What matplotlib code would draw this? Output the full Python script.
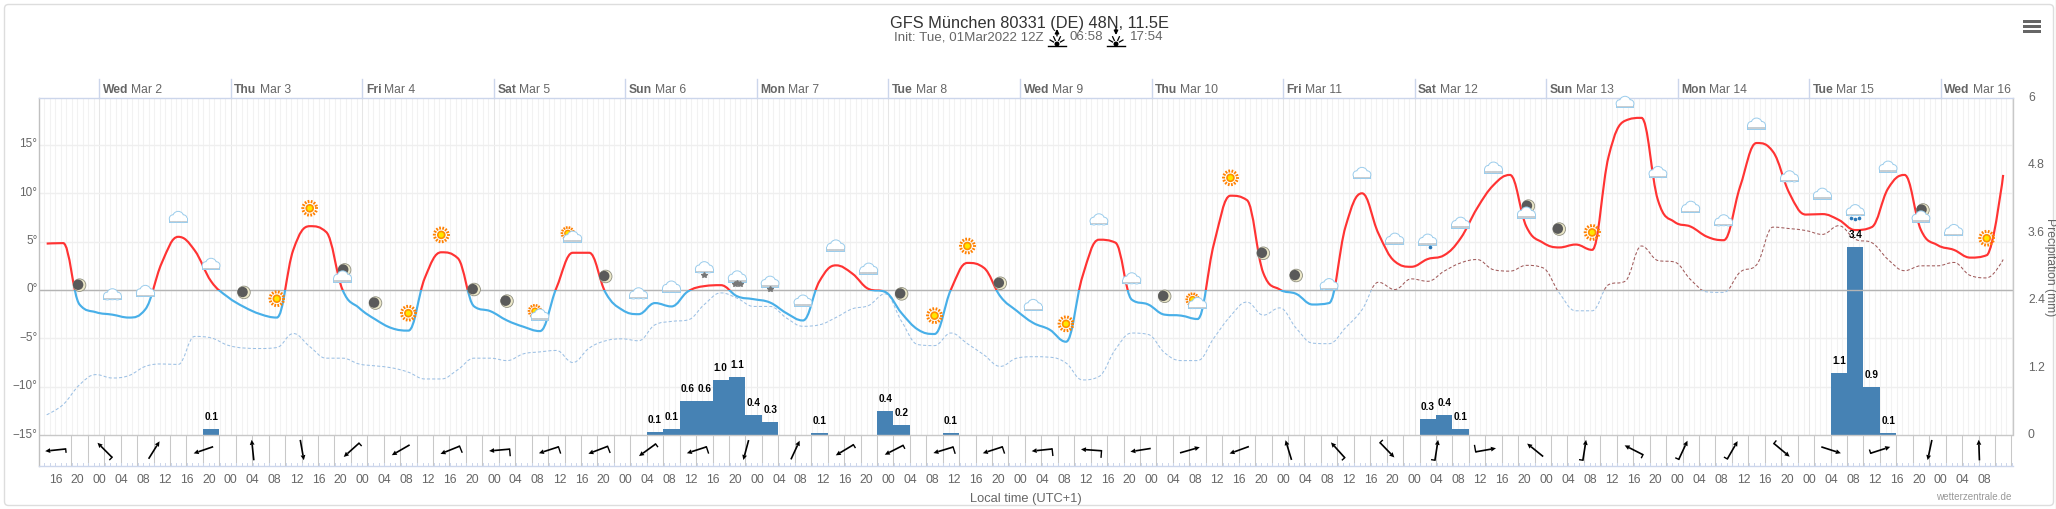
import numpy as np
import matplotlib
matplotlib.use('Agg')
import matplotlib.pyplot as plt
from matplotlib.path import Path
from matplotlib.patches import PathPatch, Rectangle, Circle, Polygon, FancyBboxPatch

W, H = 2056, 509
plt.rcParams['font.family'] = ['Liberation Sans', 'DejaVu Sans']

# 3-hourly GFS run
temp = [4.8, 4.85, -1.5, -2.3, -2.55, -2.85, -2.0, 2.8, 5.5, 4.1,
        0.9, -0.7, -1.75, -2.5, -2.85, 4.15, 6.6, 6.0, 0.0, -1.85,
        -3.05, -3.95, -4.2, 1.25, 3.9, 3.3, -1.7, -2.2, -3.15, -3.8,
        -4.25, 0.2, 3.85, 3.85, -0.3, -2.05, -2.5, -1.35, -1.7, -0.15,
        0.4, 0.5, -0.65, -0.95, -1.3, -2.4, -3.15, 0.9, 2.55, 1.7,
        0.1, -0.2, -2.4, -4.1, -4.55, 0.05, 2.8, 2.3, -0.65, -2.15,
        -3.4, -4.1, -5.35, 1.4, 5.2, 4.9, -1.0, -1.5, -2.55, -2.65,
        -3.0, 4.8, 9.75, 9.3, 1.75, 0.05, -0.4, -1.5, -1.35, 6.55,
        10.0, 5.85, 2.95, 2.4, 3.2, 3.6, 5.35, 8.45, 10.85, 11.9,
        6.55, 4.9, 4.4, 4.7, 4.15, 13.8, 17.5, 17.8, 9.3, 7.05,
        6.55, 5.5, 5.15, 10.7, 15.2, 14.3, 10.0, 7.8, 7.85, 7.25,
        6.2, 6.5, 10.5, 11.9, 6.2, 4.65, 4.15, 3.35, 3.6, 11.9]
dew = [-12.9, -11.85, -9.8, -8.75, -9.1, -8.85, -7.9, -7.65, -7.7, -4.8,
       -4.95, -5.7, -6.0, -6.05, -5.95, -4.5, -5.85, -7.05, -7.05, -7.65,
       -7.85, -8.05, -8.5, -9.2, -9.2, -8.25, -7.05, -7.05, -7.3, -6.6,
       -6.4, -6.25, -7.5, -6.0, -5.25, -5.05, -5.25, -3.6, -3.25, -3.1,
       -1.5, -0.3, -0.85, -1.7, -1.7, -2.9, -3.75, -3.6, -2.85, -1.95,
       -1.6, -0.4, -3.25, -5.65, -5.75, -4.45, -5.55, -6.7, -7.9, -7.05,
       -6.9, -6.95, -7.55, -9.3, -8.95, -6.15, -4.45, -4.6, -6.5, -7.3,
       -7.3, -4.95, -2.7, -1.25, -2.6, -1.85, -3.95, -5.5, -5.55, -3.9,
       -2.05, 0.8, 0.05, 1.15, 0.9, 1.95, 2.8, 3.15, 2.1, 1.95,
       2.55, 2.3, -0.3, -2.15, -2.15, 0.55, 0.9, 4.55, 3.05, 2.9,
       1.05, -0.2, -0.25, 1.85, 2.6, 6.5, 6.35, 6.15, 5.75, 6.65,
       5.25, 4.9, 3.15, 2.0, 2.5, 2.5, 2.85, 1.5, 1.25, 3.15]

precip_idx = [10, 37, 38, 39, 40, 41, 42, 43, 44, 47, 51, 52, 55, 84, 85, 86, 109, 110, 111, 112]
precip_mm = [0.11, 0.06, 0.11, 0.61, 0.61, 0.98, 1.04, 0.36, 0.24, 0.04, 0.43, 0.18, 0.04,
             0.29, 0.36, 0.11, 1.11, 3.34, 0.86, 0.04]
precip_lab = ['0.1', '0.1', '0.1', '0.6', '0.6', '1.0', '1.1', '0.4', '0.3', '0.1', '0.4', '0.2', '0.1',
              '0.3', '0.4', '0.1', '1.1', '3.4', '0.9', '0.1']

# icon every second step, starting at step 2
icon_kind = ['m', 'c', 'c', 'c', 'c', 'm', 's', 's', 'mc', 'm',
             's', 's', 'm', 'm', 'sc', 'sc', 'm', 'c', 'c', 'sn',
             'sn3', 'sn', 'c', 'c', 'c', 'm', 's', 's', 'm', 'c',
             's', 'c', 'c', 'm', 'sc', 's', 'm', 'm', 'c', 'c',
             'c', 'r1', 'c', 'c', 'mc', 'm', 's', 'c', 'c', 'c',
             'c', 'c', 'c', 'c', 'r3', 'c', 'mc', 'c', 's']
icon_y = [0.5, -0.5, -0.15, 7.5, 2.65, -0.25, -0.9, 8.45, 1.35, -1.35,
          -2.4, 5.7, 0.05, -1.15, -2.6, 5.45, 1.4, -0.4, 0.3, 2.3,
          1.35, 0.8, -1.15, 4.55, 2.15, -0.4, -2.65, 4.55, 0.7, -1.6,
          -3.5, 7.25, 1.15, -0.65, -1.4, 11.6, 3.8, 1.5, 0.55, 12.05,
          5.25, 5.15, 6.9, 12.6, 7.95, 6.3, 5.95, 19.4, 12.15, 8.55,
          7.15, 17.15, 11.7, 9.9, 8.2, 12.7, 7.55, 6.15, 5.35]

# arrow heading in degrees (0 = pointing right, counter clockwise), barb code at the tail
wind_heading = [186, 135, 58, 199, 96, 280, 222, 210, 202, 185,
                198, 201, 216, 198, 255, 65, 211, 207, 197, 198,
                186, 176, 189, 16, 200, 107, 132, 314, 81, 10,
                141, 81, 153, 65, 60, 320, 342, 18, 258, 92]
wind_barb = [1, 1, 0, 0, 0, 0, 1, 0, 2, 2,
             2, 2, 1, 2, 0, 0, 1, 1, 2, 2,
             2, 2, 0, 0, 0, 0, 1, 1, 1, 2,
             0, 1, 1, 1, 1, 1, 0, 1, 0, 0]

days = [('Wed', 'Mar 2'), ('Thu', 'Mar 3'), ('Fri', 'Mar 4'), ('Sat', 'Mar 5'), ('Sun', 'Mar 6'),
        ('Mon', 'Mar 7'), ('Tue', 'Mar 8'), ('Wed', 'Mar 9'), ('Thu', 'Mar 10'), ('Fri', 'Mar 11'),
        ('Sat', 'Mar 12'), ('Sun', 'Mar 13'), ('Mon', 'Mar 14'), ('Tue', 'Mar 15'), ('Wed', 'Mar 16')]
tick_hours = list(range(-8, 345, 4))
temp_ticks = [-15, -10, -5, 0, 5, 10, 15]
precip_ticks = [0, 1.2, 2.4, 3.6, 4.8, 6]

# hours since Mar 2 00:00 local
hours = np.arange(len(temp)) * 3 - 9.6

GRID = '#f2f2f2'
AXIS_BLUE = '#ccd6eb'
LABEL = '#666666'


def spline_path(xs, ys):
    # same bezier smoothing as a web chart spline
    verts = [(xs[0], ys[0])]
    codes = [Path.MOVETO]
    n = len(xs)
    conts = []
    for i in range(n):
        if i == 0 or i == n - 1:
            conts.append(((xs[i], ys[i]), (xs[i], ys[i])))
            continue
        lx = (1.5 * xs[i] + xs[i - 1]) / 2.5
        ly = (1.5 * ys[i] + ys[i - 1]) / 2.5
        rx = (1.5 * xs[i] + xs[i + 1]) / 2.5
        ry = (1.5 * ys[i] + ys[i + 1]) / 2.5
        corr = (ry - ly) * (rx - xs[i]) / (rx - lx) + ys[i] - ry
        ly += corr
        ry += corr
        if ly > ys[i] and ly > ys[i - 1]:
            ly = max(ys[i], ys[i - 1])
            ry = 2 * ys[i] - ly
        elif ly < ys[i] and ly < ys[i - 1]:
            ly = min(ys[i], ys[i - 1])
            ry = 2 * ys[i] - ly
        if ry > ys[i] and ry > ys[i + 1]:
            ry = max(ys[i], ys[i + 1])
            ly = 2 * ys[i] - ry
        elif ry < ys[i] and ry < ys[i + 1]:
            ry = min(ys[i], ys[i + 1])
            ly = 2 * ys[i] - ry
        conts.append(((lx, ly), (rx, ry)))
    for i in range(n - 1):
        verts += [conts[i][1], conts[i + 1][0], (xs[i + 1], ys[i + 1])]
        codes += [Path.CURVE4] * 3
    return Path(verts, codes)


def zoned_line(ax, xs, ys, col_up, col_down, **kw):
    path = spline_path(xs, ys)
    x0, x1 = ax.get_xlim()
    y0, y1 = ax.get_ylim()
    for col, lo, hi in ((col_down, y0, 0), (col_up, 0, y1)):
        p = PathPatch(path, facecolor='none', edgecolor=col, zorder=4, **kw)
        ax.add_patch(p)
        p.set_clip_path(Rectangle((x0, lo), x1 - x0, hi - lo, transform=ax.transData))


fig = plt.figure(figsize=(W / 100, H / 100), dpi=100, facecolor='white')
left, right, top, bottom = 39, 2012.5, 98, 466

ax2 = fig.add_axes([left / W, 1 - bottom / H, (right - left) / W, (bottom - top) / H])
ax2.set_xlim(-11, 349.1)
ax2.set_ylim(-(bottom - 435) / 56.17, 6)
ax = ax2.twinx()
ax.set_ylim((290 - bottom) / 9.67, (290 - top) / 9.67)
ax.set_zorder(2)
ax2.set_zorder(1)
ax.patch.set_visible(False)
for a in (ax, ax2):
    for s in a.spines.values():
        s.set_visible(False)
    a.set_xticks([])
    a.set_yticks([])

# grid, kept on the lower axes so the bars hide it
grid_top = ax2.get_ylim()[1]
for h in range(-10, 350):
    col = '#e6e6e6' if h % 24 == 0 else GRID
    ax2.plot([h, h], [0, grid_top], color=col, lw=0.75, zorder=1)
for t in temp_ticks[1:]:
    ax2.plot([-11, 349.1], [t, t], transform=ax.transData, color='#efefef', lw=1.0, zorder=1.5)

bar_x = [hours[i] for i in precip_idx]
ax2.bar(bar_x, precip_mm, width=3, color='#4682b4', zorder=2)
ax2.plot([-11, 349.1], [-15, -15], transform=ax.transData, color='#c8c8c8', lw=1.0, zorder=3)
ax2.plot([-11, 349.1], [0, 0], transform=ax.transData, color='#b4b4b4', lw=1.0, zorder=3)

# wind row separators
for h in hours[1:]:
    ax.plot([h + 1.5, h + 1.5], [ax.get_ylim()[0], -15], color='#c8c8c8', lw=0.75, zorder=1)
ax.plot([-11, -11], ax.get_ylim(), color='#c0c0c0', lw=1.0, zorder=1, clip_on=False)
ax.plot([349.1, 349.1], [-15, ax.get_ylim()[1]], color='#c8c8c8', lw=1.0, zorder=1, clip_on=False)

zoned_line(ax, hours, dew, '#a05a5a', '#9cc0e4', lw=0.75, linestyle=(0, (3, 2)))
zoned_line(ax, hours, temp, '#ff3333', '#48afe8', lw=1.55)

# pixel layer on top for text, icons and chrome
px = fig.add_axes([0, 0, 1, 1], zorder=10)
px.set_xlim(0, W)
px.set_ylim(H, 0)
px.axis('off')
px.patch.set_visible(False)


def to_px(x, y):
    xd, yd = ax.transData.transform((x, y))
    return xd, H - yd


def to_px2(x, y):
    xd, yd = ax2.transData.transform((x, y))
    return xd, H - yd


def draw_cloud(cx, cy, s=1.0):
    blobs = [(-5.0, 1.2, 3.4), (0.0, -0.6, 5.0), (5.0, 1.2, 3.4)]
    for grow, col in ((1.0, '#9ccdec'), (0.0, 'white')):
        for bx, by, r in blobs:
            px.add_patch(Circle((cx + bx * s, cy + by * s), (r + grow) * s, fc=col, ec='none', zorder=6))
        px.add_patch(Rectangle((cx - (8.4 + grow) * s, cy + 1.0 * s), (16.8 + 2 * grow) * s, (3.6 + grow) * s,
                               fc=col, ec='none', zorder=6))
    px.add_patch(Rectangle((cx - 8.4 * s, cy + 3.2 * s), 16.8 * s, 1.4 * s, fc='#c8ced2', ec='none', zorder=6))


def draw_sun(cx, cy, s=1.0):
    for a in np.arange(0, 360, 26):
        c, n = np.cos(np.radians(a)), np.sin(np.radians(a))
        px.plot([cx + 5.4 * s * c, cx + 8.4 * s * c], [cy + 5.4 * s * n, cy + 8.4 * s * n],
                color='#ff8000', lw=1.25, solid_capstyle='butt', zorder=6)
    px.add_patch(Circle((cx, cy), 4.3 * s, fc='#ff9000', ec='none', zorder=6))
    px.add_patch(Circle((cx, cy), 2.6 * s, fc='#ffe600', ec='none', zorder=6))


def draw_moon(cx, cy):
    px.add_patch(Circle((cx, cy), 6.3, fc='#ebe7c8', ec='#8f8f80', lw=0.6, zorder=6))
    px.add_patch(Circle((cx - 1.4, cy - 0.4), 5.2, fc='#5a5a5a', ec='none', zorder=6))


for n, (kind, yv) in enumerate(zip(icon_kind, icon_y)):
    cx, cy = to_px(hours[2 * (n + 1)], yv)
    if kind == 's':
        draw_sun(cx, cy)
    elif kind == 'm':
        draw_moon(cx, cy)
    elif kind == 'mc':
        draw_moon(cx + 2, cy - 7)
        draw_cloud(cx, cy)
    elif kind == 'sc':
        draw_sun(cx - 5, cy - 4, 0.85)
        draw_cloud(cx, cy)
    else:
        draw_cloud(cx, cy)
        if kind == 'sn':
            px.plot([cx], [cy + 7], marker='*', ms=4, color='#777777', zorder=6)
        if kind == 'sn3':
            px.plot([cx - 2, cx, cx + 2.5], [cy + 7, cy + 6, cy + 7], ls='', marker='*', ms=4, color='#777777', zorder=6)
        if kind == 'r1':
            px.plot([cx + 2], [cy + 7], marker='o', ms=1.6, color='#2a78b8', zorder=6)
        if kind == 'r3':
            px.plot([cx - 4, cx, cx + 4], [cy + 7, cy + 8, cy + 7], ls='', marker='o', ms=1.6, color='#2a78b8', zorder=6)

# wind arrows
wind_y = to_px(0, -15)[1] + 15
for n, (head, barb) in enumerate(zip(wind_heading, wind_barb)):
    cx = to_px(hours[3 * n] + 1.6, 0)[0]
    ux, uy = np.cos(np.radians(head)), -np.sin(np.radians(head))
    tail = (cx - 10.3 * ux, wind_y - 10.3 * uy)
    tip = (cx + 10.3 * ux, wind_y + 10.3 * uy)
    neck = (tip[0] - 5 * ux, tip[1] - 5 * uy)
    px.plot([tail[0], neck[0]], [tail[1], neck[1]], color='black', lw=1.2, solid_capstyle='butt', zorder=7)
    px.add_patch(Polygon([tip, (neck[0] - 2.4 * uy, neck[1] + 2.4 * ux), (neck[0] + 2.4 * uy, neck[1] - 2.4 * ux)],
                         fc='black', ec='none', zorder=7))
    if barb:
        # barb is the heading turned +90 deg on screen with y going down
        bx, by = uy, -ux
        px.plot([tail[0], tail[0] + 3.2 * barb * bx], [tail[1], tail[1] + 3.2 * barb * by],
                color='black', lw=1.0, zorder=7)

# bar labels
for x, v, lab in zip(bar_x, precip_mm, precip_lab):
    cx, cy = to_px2(x, v)
    px.text(cx, cy - 12, lab, ha='center', va='center', fontsize=7.2, fontweight='bold', color='black', zorder=8)

# axis chrome
px.plot([left, right], [top, top], color=AXIS_BLUE, lw=1.0, zorder=3)
px.plot([left, right], [bottom, bottom], color=AXIS_BLUE, lw=1.0, zorder=3)
for h in range(-10, 350):
    x = to_px(h, 0)[0]
    px.plot([x, x], [bottom - 3, bottom], color=AXIS_BLUE, lw=0.7, zorder=3)

rend = fig.canvas.get_renderer()
for d, (wd, md) in enumerate(days):
    x = to_px(24 * d, 0)[0]
    px.plot([x, x], [79, top], color=AXIS_BLUE, lw=1.0, zorder=3)
    t1 = px.text(x + 3.5, 90, wd, ha='left', va='center', fontsize=8.7, fontweight='bold', color=LABEL)
    w1 = t1.get_window_extent(rend).width
    px.text(x + 3.5 + w1 + 3, 90, md, ha='left', va='center', fontsize=8.7, color=LABEL)

for h in tick_hours:
    x = to_px(h, 0)[0]
    px.text(x, 480, '%02d' % (h % 24), ha='center', va='center', fontsize=8.7, color=LABEL)
for t in temp_ticks:
    y = to_px(0, t)[1]
    lab = ('\u2212%d\u00b0' % -t) if t < 0 else '%d\u00b0' % t
    px.text(37.5, y - 0.5, lab, ha='right', va='center', fontsize=8.5, color=LABEL)
for p in precip_ticks:
    y = to_px2(0, p)[1]
    px.text(2028, y, ('%g' % p), ha='left', va='center', fontsize=8.7, color=LABEL)
px.text(2049.5, 267, 'Precipitation (mm)', rotation=270, ha='center', va='center', fontsize=8.7, color=LABEL)

px.text(1026, 499, 'Local time (UTC+1)', ha='center', va='center', fontsize=9.3, color=LABEL)
px.text(2012, 497, 'wetterzentrale.de', ha='right', va='center', fontsize=7.1, color='#999999')

# title block
px.text(1029, 23, 'GFS M\u00fcnchen 80331 (DE) 48N, 11.5E', ha='center', va='center', fontsize=11.8, color='#333333')
px.text(1044, 37, 'Init: Tue, 01Mar2022 12Z', ha='right', va='center', fontsize=9.6, color=LABEL)
px.text(1070, 37, '06:58', ha='left', va='center', fontsize=9.6, color=LABEL)
px.text(1130, 37, '17:54', ha='left', va='center', fontsize=9.6, color=LABEL)
for cx, up in ((1057, True), (1116, False)):
    y0, y1 = (36, 29) if up else (28, 35)
    px.annotate('', xy=(cx, y1), xytext=(cx, y0), arrowprops=dict(arrowstyle='-|>', color='black', lw=1.0,
                                                                 mutation_scale=6, shrinkA=0, shrinkB=0))
    px.plot([cx - 9, cx + 9], [46, 46], color='black', lw=1.0)
    for a in (-60, -25, 25, 60):
        c, n = np.sin(np.radians(a)), np.cos(np.radians(a))
        px.plot([cx + 4 * c, cx + 8 * c], [44 - 4 * n, 44 - 8 * n], color='black', lw=0.9)
    px.add_patch(Circle((cx, 44), 2.5, fc='black', ec='none'))

# menu button
for y in (20, 25, 30):
    px.add_patch(Rectangle((2023, y), 18, 3.3, fc='#666666', ec='none'))

# card border and the dark sliver at the screenshot edge
px.add_patch(FancyBboxPatch((7, 7), 2044, 496, boxstyle='round,pad=2.5,rounding_size=4',
                            fc='none', ec='#dddddd', lw=1.0))
px.plot([2055.5, 2055.5], [0, H], color='#6f8f3a', lw=0.8)

fig.savefig('out.png', dpi=100)
